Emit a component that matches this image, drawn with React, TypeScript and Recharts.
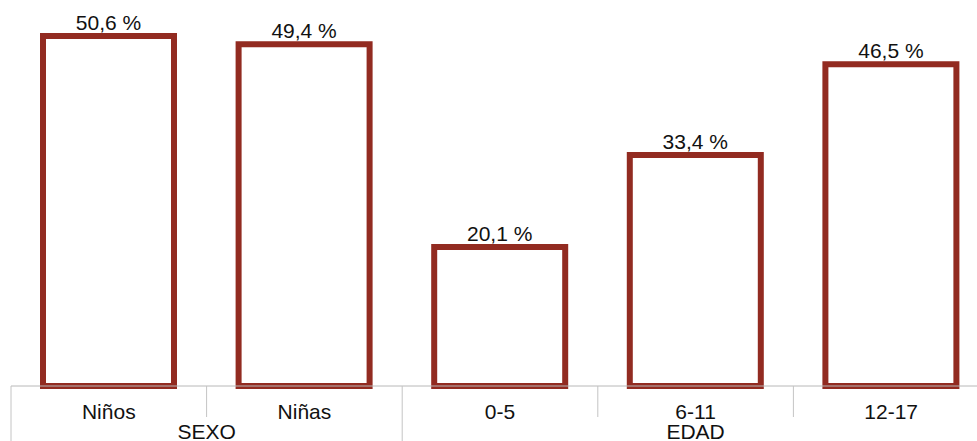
import React from "react";
import { BarChart, Bar, XAxis, YAxis, LabelList } from "recharts";

const categories = ["Niños", "Niñas", "0-5", "6-11", "12-17"];
const groups = ["SEXO", "SEXO", "EDAD", "EDAD", "EDAD"];
const shares = [50.6, 49.4, 20.1, 33.4, 46.5];

const chartData = categories.map((name, i) => ({
  name,
  group: groups[i],
  value: shares[i],
}));

const CHART_W = 1000;
const PLOT_LEFT = 11;
const PLOT_W = 978;
const BAND = PLOT_W / categories.length;
const FONT = "'Liberation Sans', Arial, sans-serif";

const CategoryTick = ({ x, y, payload, index }: any) => {
  // recharts pushes the tick 8px below the axis line (tickSize + tickMargin)
  const axisY = y - 8;
  const left = x - BAND / 2;
  const group = groups[index];
  const first = index === 0 || groups[index - 1] !== group;
  const span = groups.filter((g) => g === group).length;
  return (
    <g>
      <line
        x1={left}
        x2={left}
        y1={axisY}
        y2={first ? axisY + 60 : axisY + 31}
        stroke="#c4c4c4"
        strokeWidth={1}
      />
      {index === categories.length - 1 && (
        <line
          x1={x + BAND / 2}
          x2={x + BAND / 2}
          y1={axisY}
          y2={axisY + 60}
          stroke="#c4c4c4"
        />
      )}
      <text
        x={x}
        y={axisY + 33}
        textAnchor="middle"
        fontSize={21}
        fontFamily={FONT}
        fill="#111"
      >
        {payload.value}
      </text>
      {first && (
        <text
          x={left + (span * BAND) / 2}
          y={axisY + 53}
          textAnchor="middle"
          fontSize={21}
          fontFamily={FONT}
          fill="#111"
        >
          {group}
        </text>
      )}
    </g>
  );
};

export default function App() {
  return (
    <div
      style={{
        position: "absolute",
        left: 0,
        top: 0,
        width: 977,
        height: 441,
        overflow: "hidden",
        background: "#fff",
      }}
    >
      <BarChart
        width={CHART_W}
        height={441}
        data={chartData}
        margin={{ top: 0, right: CHART_W - PLOT_LEFT - PLOT_W, left: PLOT_LEFT, bottom: 0 }}
      >
        <XAxis
          dataKey="name"
          interval={0}
          height={55}
          tickLine={false}
          axisLine={{ stroke: "#b8b8b8", strokeWidth: 1 }}
          tick={<CategoryTick />}
        />
        <YAxis hide domain={[0, 55.8]} />
        <Bar
          dataKey="value"
          barSize={131}
          fill="#ffffff"
          stroke="#922b21"
          strokeWidth={6}
          isAnimationActive={false}
        >
          <LabelList
            dataKey="value"
            position="top"
            offset={6}
            formatter={(v: any) => Number(v).toFixed(1).replace(".", ",") + " %"}
            style={{ fontSize: 21, fontFamily: FONT, fill: "#111" }}
          />
        </Bar>
      </BarChart>
    </div>
  );
}
